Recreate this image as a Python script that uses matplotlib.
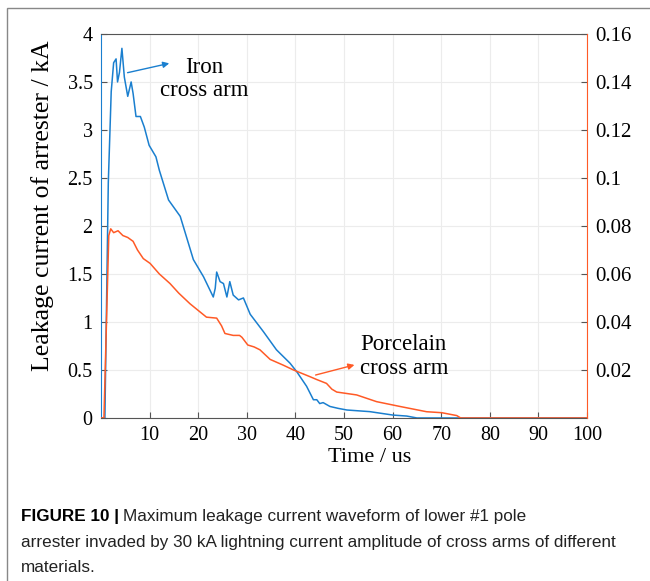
import matplotlib
matplotlib.use("Agg")
import matplotlib.pyplot as plt
from matplotlib.patches import Rectangle

# Iron cross arm (left axis, kA)
iron_t = [0, 0.8, 1.5, 2.1, 2.6, 3.1, 3.4, 3.8, 4.3, 4.8, 5.5, 6.2, 6.6, 7.2, 8.1,
          8.9, 9.9, 11.3, 12.0, 13.9, 16.3, 19.0, 21.1, 23.1, 23.5, 23.8, 24.5,
          25.2, 25.9, 26.5, 27.2, 28.3, 29.3, 30.7, 33.4, 36.1, 38.9, 40.3, 42.3,
          43.7, 44.4, 45.0, 45.7, 47.1, 48.8, 50.6, 55.3, 60.1, 62.9, 65.0, 100]
iron_i = [0, 0, 2.45, 3.4, 3.7, 3.74, 3.5, 3.6, 3.85, 3.55, 3.35, 3.5, 3.38, 3.14, 3.14,
          3.03, 2.84, 2.72, 2.58, 2.27, 2.10, 1.65, 1.47, 1.26, 1.35, 1.52, 1.42,
          1.40, 1.26, 1.42, 1.28, 1.23, 1.25, 1.08, 0.90, 0.71, 0.57, 0.48, 0.33,
          0.19, 0.19, 0.15, 0.16, 0.12, 0.10, 0.083, 0.066, 0.03, 0.02, 0, 0]

# Porcelain cross arm (right axis)
porc_t = [0, 0.6, 1.6, 2.0, 2.6, 3.5, 4.5, 5.5, 6.6, 7.5, 8.7, 10.1, 12.0, 14.2, 16.0,
          18.3, 20.0, 21.7, 23.8, 24.8, 25.5, 27.2, 28.5, 29.0, 30.2, 31.5, 32.7,
          34.8, 37.5, 39.6, 43.0, 44.4, 46.4, 47.5, 48.5, 52.6, 56.7, 61.5, 67.0,
          70.1, 73.2, 74.0, 100]
porc_i = [0, 0, 0.076, 0.0788, 0.0772, 0.078, 0.076, 0.0752, 0.0736, 0.070, 0.0664,
          0.0644, 0.060, 0.056, 0.052, 0.0476, 0.0448, 0.042, 0.0416, 0.0384, 0.0352,
          0.0344, 0.0344, 0.0336, 0.0304, 0.0296, 0.0284, 0.0244, 0.022, 0.020,
          0.0172, 0.016, 0.0144, 0.012, 0.0108, 0.0096, 0.0068, 0.0048, 0.0026,
          0.0022, 0.001, 0, 0]

x_ticks = [10, 20, 30, 40, 50, 60, 70, 80, 90, 100]
left_ticks = [0, 0.5, 1, 1.5, 2, 2.5, 3, 3.5, 4]
left_labels = ["0", "0.5", "1", "1.5", "2", "2.5", "3", "3.5", "4"]
right_ticks = [0.02, 0.04, 0.06, 0.08, 0.1, 0.12, 0.14, 0.16]
right_labels = ["0.02", "0.04", "0.06", "0.08", "0.1", "0.12", "0.14", "0.16"]

blue = "#1a7fcf"
orange = "#ff5a26"
serif = "Liberation Serif"

fig = plt.figure(figsize=(6.5, 5.81), dpi=100)
ax = fig.add_axes([0.1554, 0.2806, 0.7477, 0.661])
ax2 = ax.twinx()

ax.plot(iron_t, iron_i, color=blue, lw=1.1)
ax2.plot(porc_t, porc_i, color=orange, lw=1.1)

ax.set_xlim(0, 100)
ax.set_ylim(0, 4)
ax2.set_ylim(0, 0.16)
ax.set_xticks(x_ticks)
ax.set_xticklabels([str(v) for v in x_ticks], fontfamily=serif, fontsize=14.5)
ax.set_yticks(left_ticks)
ax.set_yticklabels(left_labels, fontfamily=serif, fontsize=14.5)
ax2.set_yticks(right_ticks)
ax2.set_yticklabels(right_labels, fontfamily=serif, fontsize=15)

ax.grid(True, color="#ececec", lw=0.8)
ax.set_axisbelow(True)
ax.tick_params(direction="in", length=4, color="#555555", pad=6)
ax2.tick_params(direction="in", length=4, color="#555555", pad=6)

for s in ["top", "bottom"]:
    ax.spines[s].set_color("#555555")
    ax2.spines[s].set_visible(False)
ax.spines["left"].set_color(blue)
ax2.spines["left"].set_visible(False)
ax2.spines["right"].set_color(orange)
ax.spines["right"].set_visible(False)

ax.set_xlabel("Time / us", fontfamily=serif, fontsize=16)
ax.xaxis.set_label_coords((370 - 101) / 486, -(458 - 418) / 384)
ax.set_ylabel("Leakage current of arrester / kA", fontfamily=serif, fontsize=18.5)
ax.yaxis.set_label_coords(-(101 - 42) / 486, (418 - 206) / 384)
ax.yaxis.label.set_va("center")
ax.xaxis.label.set_va("center")

ax.annotate("", xy=(14.6, 3.70), xytext=(4.9, 3.59),
            arrowprops=dict(arrowstyle="-|>", color=blue, lw=1.0, mutation_scale=9))
ax.text(21.2, 3.53, "Iron\ncross arm", ha="center", va="center",
        fontfamily=serif, fontsize=16.5, linespacing=1.1)
ax.annotate("", xy=(52.7, 0.56), xytext=(43.6, 0.44),
            arrowprops=dict(arrowstyle="-|>", color=orange, lw=1.0, mutation_scale=9))
ax.text(53.3, 0.64, "Porcelain\ncross arm", ha="left", va="center",
        fontfamily=serif, fontsize=16.5, linespacing=1.15)

# outer frame of the figure panel
fig.add_artist(Rectangle((7 / 650, -0.05), 1.2, 1 - 8 / 581 + 0.05,
                         transform=fig.transFigure, fill=False,
                         edgecolor="#888888", lw=1.0))

# caption
cap_font = "Liberation Sans"
cap_size = 12.3
t1 = fig.text(21 / 650, 1 - 517 / 581, "FIGURE 10 |", fontfamily=cap_font,
              fontsize=cap_size, fontweight="bold", va="center")
fig.canvas.draw()
bb = t1.get_window_extent()
fig.text((bb.x1 + 4) / 650, 1 - 517 / 581,
         "Maximum leakage current waveform of lower #1 pole",
         fontfamily=cap_font, fontsize=cap_size, va="center", color="#222222")
fig.text(21 / 650, 1 - 543 / 581,
         "arrester invaded by 30 kA lightning current amplitude of cross arms of different",
         fontfamily=cap_font, fontsize=cap_size, va="center", color="#222222")
fig.text(21 / 650, 1 - 568 / 581, "materials.",
         fontfamily=cap_font, fontsize=cap_size, va="center", color="#222222")

fig.savefig("out.png", dpi=100)
